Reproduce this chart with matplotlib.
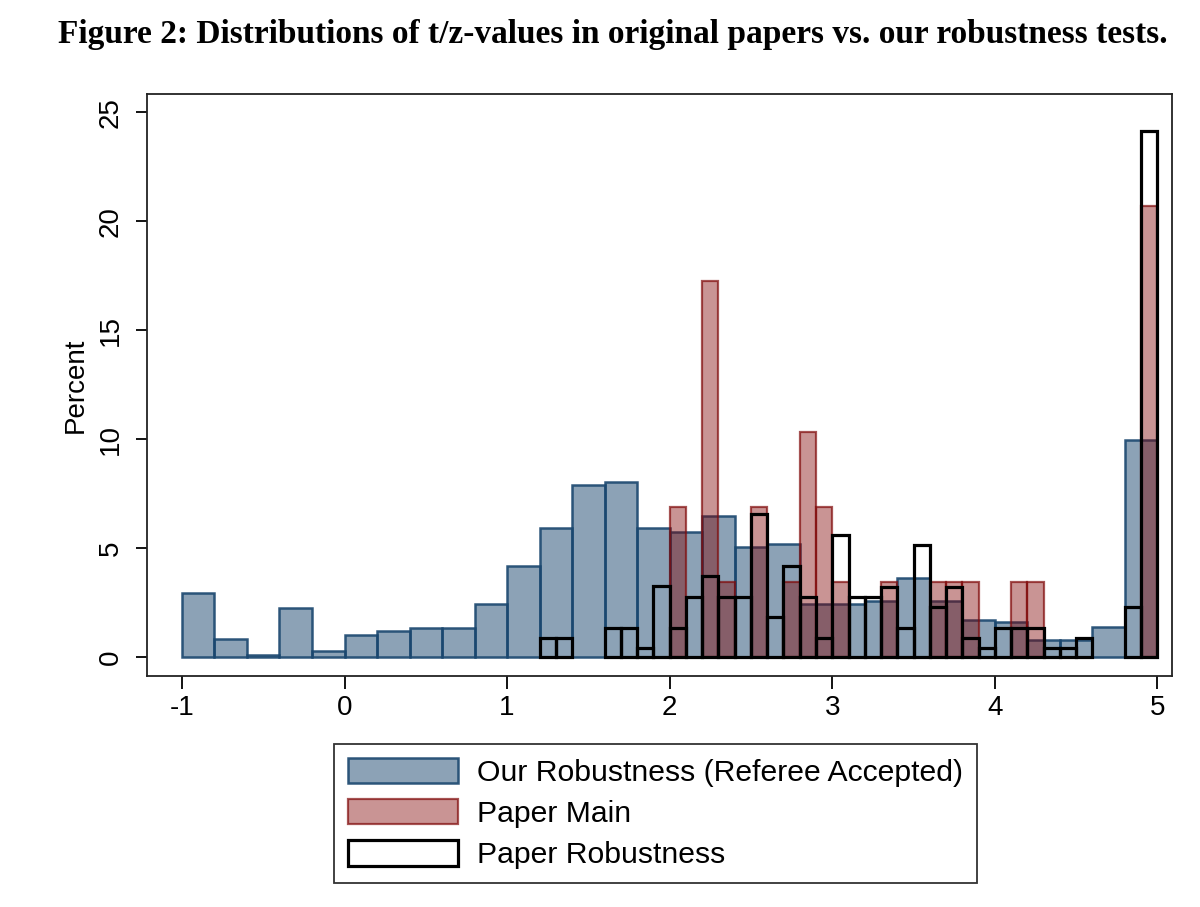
import numpy as np
import matplotlib.pyplot as plt

plt.rcParams['font.family'] = ['Liberation Sans', 'DejaVu Sans']
plt.rcParams['axes.unicode_minus'] = False

# --- DATA (percent per bin) ---
# Our robustness (referee accepted): bins of 0.2 from -1 to 5
ours_left = np.round(np.arange(-1.0, 4.81, 0.2), 1)
ours_pct = np.array([2.95, 0.82, 0.12, 2.24, 0.30, 1.01, 1.20, 1.35, 1.35, 2.42,
                     4.18, 5.93, 7.88, 8.04, 5.93, 5.75, 6.46, 5.06, 5.21, 2.42,
                     2.44, 2.58, 3.65, 2.58, 1.70, 1.63, 0.78, 0.78, 1.38, 9.98])

# Paper main: bins of 0.1 from 2 to 5
main_left = np.round(np.arange(2.0, 4.91, 0.1), 1)
main_pct = np.array([6.90, 0.00, 17.24, 3.45, 0.00, 6.90, 0.00, 3.45, 10.34, 6.90,
                     3.45, 0.00, 0.00, 3.45, 0.00, 0.00, 3.45, 3.45, 3.45, 0.00,
                     0.00, 3.45, 3.45, 0.00, 0.00, 0.00, 0.00, 0.00, 0.00, 20.69])

# Paper robustness: bins of 0.1 from 1.2 to 5
rob_left = np.round(np.arange(1.2, 4.91, 0.1), 1)
rob_pct = np.array([0.88, 0.88, 0.00, 0.00, 1.36, 1.36, 0.42, 3.26, 1.36, 2.78,
                    3.72, 2.78, 2.78, 6.55, 1.83, 4.18, 2.78, 0.88, 5.60, 2.75,
                    2.75, 3.24, 1.36, 5.14, 2.32, 3.24, 0.88, 0.42, 1.36, 1.36,
                    1.36, 0.42, 0.42, 0.90, 0.00, 0.00, 2.32, 24.12])

labels = ['Our Robustness (Referee Accepted)', 'Paper Main', 'Paper Robustness']

# --- PLOT ---
fig = plt.figure(figsize=(12, 9.07), dpi=100)
ax = fig.add_axes([0.1225, 0.2547, 0.8542, 0.6417])

m = ours_pct > 0
ax.bar(ours_left[m], ours_pct[m], width=0.2, align='edge',
       color=(26/255, 71/255, 111/255, 0.5), edgecolor=(26/255, 71/255, 111/255, 0.9),
       linewidth=1.8, label=labels[0])
m = main_pct > 0
ax.bar(main_left[m], main_pct[m], width=0.1, align='edge',
       color=(128/255, 0, 0, 0.42), edgecolor=(128/255, 10/255, 10/255, 0.7),
       linewidth=1.6, label=labels[1])
m = rob_pct > 0
ax.bar(rob_left[m], rob_pct[m], width=0.1, align='edge',
       facecolor='none', edgecolor='black', linewidth=2.3, label=labels[2])

ax.set_xlim(-1.215, 5.09)
ax.set_ylim(-0.86, 25.84)
ax.set_xticks(range(-1, 6))
ax.set_yticks(range(0, 26, 5))
ax.tick_params(axis='x', labelsize=20, length=9, width=1.3, pad=5)
ax.tick_params(axis='y', labelsize=20, length=8, width=1.3, pad=9)
for t in ax.get_yticklabels():
    t.set_rotation(90)
    t.set_va('center')
ax.set_ylabel('Percent', fontsize=20, labelpad=6)
for s in ax.spines.values():
    s.set_linewidth(1.3)
    s.set_color('#222222')

fig.text(0.511, 1 - 43/907,
         'Figure 2: Distributions of t/z-values in original papers vs. our robustness tests.',
         ha='center', va='baseline', fontsize=24, fontweight='bold',
         family='Liberation Serif')

leg = fig.legend(loc='upper left', bbox_to_anchor=(334/1200, 1 - 744/907),
                 borderaxespad=0, fontsize=21.7, handlelength=3.65, handleheight=0.93,
                 labelspacing=0.4, borderpad=0.45, handletextpad=0.66,
                 fancybox=False, edgecolor='#333333', framealpha=1)
leg.get_frame().set_linewidth(1.3)

plt.savefig('out.png', dpi=100)
